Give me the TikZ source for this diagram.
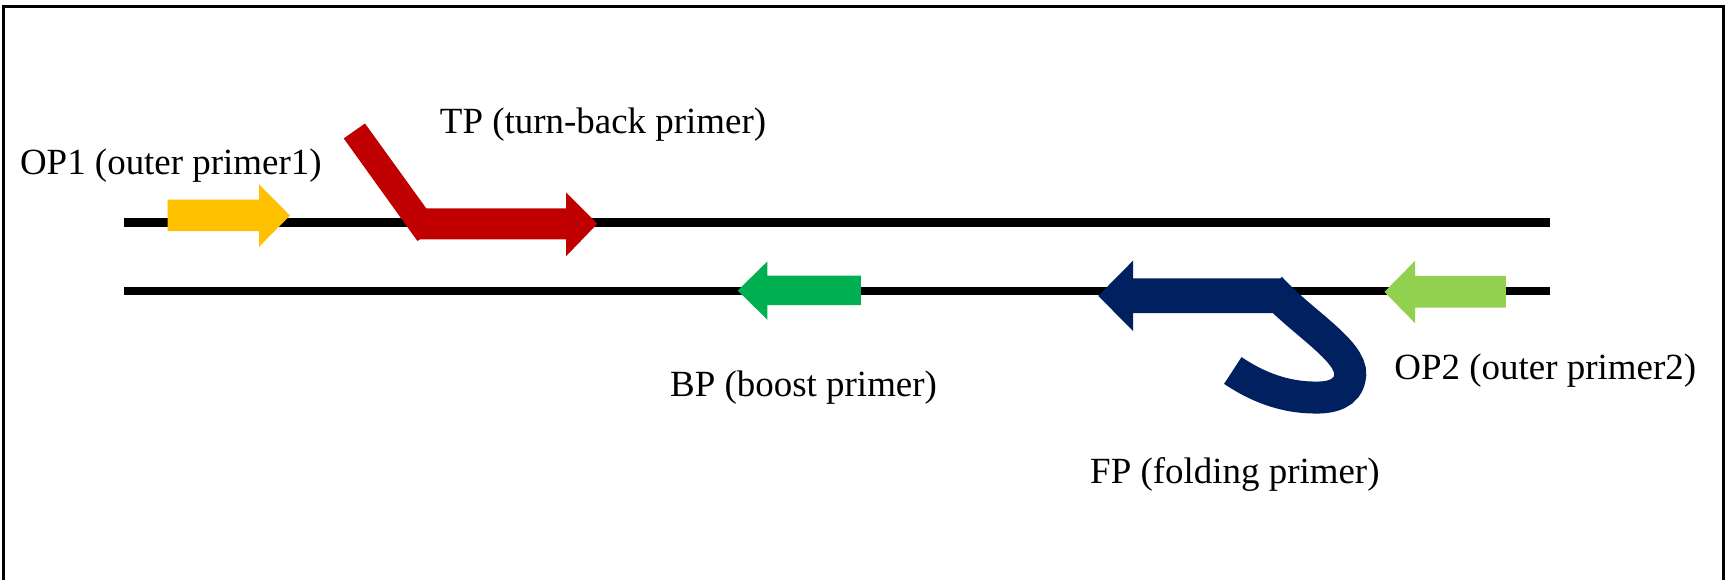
\documentclass[tikz,border=0pt]{standalone}
\usepackage{fontspec}
\setmainfont{Liberation Serif}
\definecolor{opone}{HTML}{FFC000}
\definecolor{tpred}{HTML}{C00000}
\definecolor{bpgreen}{HTML}{00B050}
\definecolor{fpblue}{HTML}{002060}
\definecolor{optwo}{HTML}{92D050}
\begin{document}
\begin{tikzpicture}[x=1pt,y=-1pt,
  frame/.style={draw=black,line width=2.7pt},
  strand/.style={draw=black,line width=8pt},
  label/.style={anchor=base west,inner sep=0pt,font=\fontsize{33.5}{40}\selectfont}]
\useasboundingbox (0,0) rectangle (1568,526);
% open frame around the drawing
\draw[frame] (3.5,526) -- (3.5,6.3) -- (1562.8,6.3) -- (1562.8,526);

% the two DNA strands
\coordinate (s1l) at (112.5,202);
\coordinate (s1r) at (1405.5,202);
\coordinate (s2l) at (112.5,264);
\coordinate (s2r) at (1405.5,264);
\draw[strand] (s1l) -- (s1r);
\draw[strand,line width=7.5pt] (s2l) -- (s2r);

% OP1: outer primer on the upper strand
\fill[opone] (152,181) -- (235,181) -- (235,167.2) -- (263,195.5)
  -- (235,223.7) -- (235,209.5) -- (152,209.5) -- cycle;

% TP: turn-back primer with its bent tail
\fill[tpred] (331,112) -- (386.6,189) -- (513.5,189) -- (513.5,174.7)
  -- (541.7,203) -- (513.5,232.2) -- (513.5,217) -- (381,217)
  -- (378.5,218.5) -- (311.7,125.5) -- cycle;

% BP: boost primer on the lower strand
\fill[bpgreen] (780.6,250) -- (696,250) -- (696,237) -- (669,263.5)
  -- (696,290) -- (696,276.8) -- (780.6,276.8) -- cycle;

% FP: folding primer with its hook
\fill[fpblue] (1162.3,252.4) -- (1027.5,252.4) -- (1027.5,236.4)
  -- (996,268.3) -- (1027.5,300.2) -- (1027.5,284) -- (1162.3,284) -- cycle;
\draw[fpblue,line width=29pt,line cap=butt]
  (1152,261) .. controls (1180,292) and (1226,318) .. (1224.5,340)
  .. controls (1223,358) and (1206,361) .. (1191,360.5)
  .. controls (1160,360) and (1136,348) .. (1118,336);

% OP2: outer primer on the lower strand
\fill[optwo] (1365.6,250.3) -- (1283.4,250.3) -- (1283.4,236.4)
  -- (1255.5,264.7) -- (1283.4,293.2) -- (1283.4,279) -- (1365.6,279) -- cycle;

% labels
\node[label] (op1) at (18,158.7) {OP1 (outer primer1)};
\node[label] (tp)  at (398.8,120.9) {TP (turn-back primer)};
\node[label] (bp)  at (607.6,359.7) {BP (boost primer)};
\node[label] (op2) at (1264.4,344.6) {OP2 (outer primer2)};
\node[label] (fp)  at (988.5,438.3) {FP (folding primer)};
\end{tikzpicture}
\end{document}
